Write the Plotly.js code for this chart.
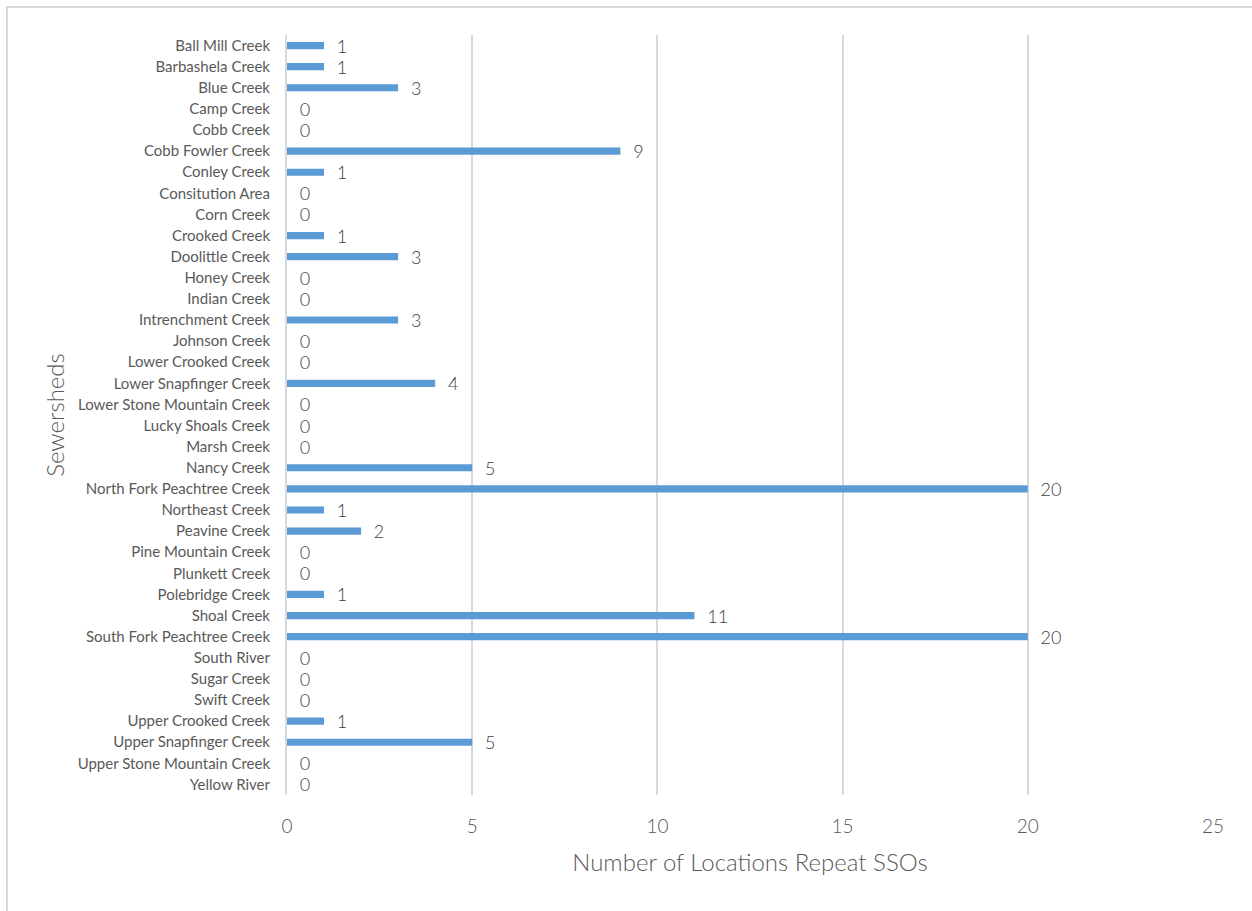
<!DOCTYPE html>
<html>
<head>
<meta charset="utf-8">
<script src="https://cdn.plot.ly/plotly-3.0.1.min.js"></script>
<style>
html,body{margin:0;padding:0;background:#fff;overflow:hidden;}
#chart{position:absolute;left:0;top:0;width:1252px;height:911px;}
#frame{position:absolute;left:6px;top:6px;width:1260px;height:920px;border:2px solid #d9d9d9;box-sizing:border-box;pointer-events:none;}
</style>
</head>
<body>
<div id="chart"></div>
<div id="frame"></div>
<script>
const categories = [
  "Ball Mill Creek","Barbashela Creek","Blue Creek","Camp Creek","Cobb Creek",
  "Cobb Fowler Creek","Conley Creek","Consitution Area","Corn Creek","Crooked Creek",
  "Doolittle Creek","Honey Creek","Indian Creek","Intrenchment Creek","Johnson Creek",
  "Lower Crooked Creek","Lower Snapfinger Creek","Lower Stone Mountain Creek","Lucky Shoals Creek","Marsh Creek",
  "Nancy Creek","North Fork Peachtree Creek","Northeast Creek","Peavine Creek","Pine Mountain Creek",
  "Plunkett Creek","Polebridge Creek","Shoal Creek","South Fork Peachtree Creek","South River",
  "Sugar Creek","Swift Creek","Upper Crooked Creek","Upper Snapfinger Creek","Upper Stone Mountain Creek",
  "Yellow River"
];
const repeatSSOs = [
  1,1,3,0,0,
  9,1,0,0,1,
  3,0,0,3,0,
  0,4,0,0,0,
  5,20,1,2,0,
  0,1,11,20,0,
  0,0,1,5,0,
  0
];
const xTicks = [0,5,10,15,20,25];
const xTitle = "Number of Locations Repeat SSOs";
const yTitle = "Sewersheds";

const font = "Lato, 'Open Sans', sans-serif";

const trace = {
  type: "bar",
  orientation: "h",
  y: categories,
  x: repeatSSOs,
  width: 0.34,
  marker: {color: "#5b9bd5", line: {width: 0}},
  text: repeatSSOs.map(v => "\u00a0\u00a0" + v),
  texttemplate: "%{text}",
  textposition: "outside",
  constraintext: "none",
  cliponaxis: false,
  textfont: {family: font, size: 18, color: "#404040", weight: 300},
  outsidetextfont: {family: font, size: 18, color: "#404040", weight: 300},
  hoverinfo: "x+y"
};

const layout = {
  width: 1252, height: 911,
  margin: {l: 287, r: 39, t: 35, b: 116},
  paper_bgcolor: "#fff",
  plot_bgcolor: "#fff",
  showlegend: false,
  xaxis: {
    range: [0, 25],
    tickvals: xTicks,
    ticktext: xTicks.map(String),
    showgrid: true,
    gridcolor: "#d9d9d9",
    gridwidth: 2,
    zeroline: false,
    showline: false,
    ticks: "",
    tickfont: {family: font, size: 19, color: "#595959", weight: 300},
    ticklabelstandoff: 18,
    title: {text: xTitle, font: {family: font, size: 24, color: "#595959", weight: 300}, standoff: 18}
  },
  yaxis: {
    type: "category",
    autorange: "reversed",
    showgrid: false,
    zeroline: false,
    showline: true,
    linecolor: "#d9d9d9",
    linewidth: 2,
    ticks: "",
    tickfont: {family: font, size: 15, color: "#595959"},
    ticklabelstandoff: 12,
    title: {text: yTitle, font: {family: font, size: 24, color: "#595959", weight: 300}, standoff: 6}
  }
};

Plotly.newPlot("chart", [trace], layout, {displayModeBar: false, staticPlot: true});
</script>
</body>
</html>
